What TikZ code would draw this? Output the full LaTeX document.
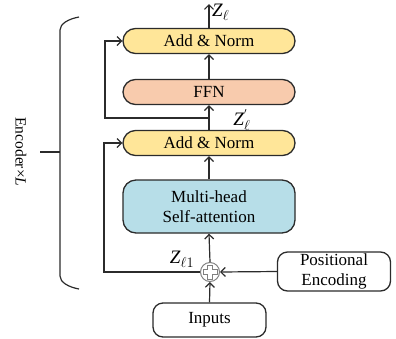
\documentclass[tikz,border=0pt]{standalone}
\usepackage{fontspec}
\setmainfont{Liberation Serif}
\usetikzlibrary{arrows.meta,calc}
\definecolor{anfill}{HTML}{FFE699}
\definecolor{ffnfill}{HTML}{F8CBAD}
\definecolor{mhafill}{HTML}{B7DEE8}
\definecolor{edge}{HTML}{2B2B2B}
\tikzset{
  box/.style={draw=edge, line width=1.3pt, minimum width=172pt, align=center, inner sep=0pt,
    font=\fontsize{17}{20}\selectfont},
  pill/.style={box, minimum height=25pt, rounded corners=12.5pt},
  wbox/.style={box, fill=white, minimum width=113pt, rounded corners=10pt},
  conn/.style={draw=edge, line width=1.2pt},
  arr/.style={conn, -{Straight Barb[length=4.5pt,width=9pt]}},
  lbl/.style={font=\fontsize{19}{22}\selectfont, inner sep=0pt}
}
\begin{document}
\begin{tikzpicture}[x=1pt,y=-1pt]
\useasboundingbox (0,0) rectangle (396,338);
% boxes
\node[pill, fill=anfill] (an1) at (209,41) {Add \& Norm};
\node[pill, fill=ffnfill] (ffn) at (209,92) {FFN};
\node[pill, fill=anfill] (an2) at (209,143) {Add \& Norm};
\node[box, fill=mhafill, minimum height=53pt, rounded corners=13pt] (mha) at (209,206.5) {Multi-head\\Self-attention};
\node[wbox, minimum height=39pt] (pe) at (334,271.5) {Positional\\Encoding};
\node[wbox, minimum height=34pt] (inp) at (209.5,320) {Inputs};
\node[circle, draw=gray, fill=white, line width=1pt, minimum size=19pt, inner sep=0pt] (plus) at (210,272) {};
\draw[gray, line width=0.9pt] (plus.center) ++(-2.5,-7) -- ++(5,0) -- ++(0,4.5) -- ++(4.5,0) -- ++(0,5) -- ++(-4.5,0) -- ++(0,4.5) -- ++(-5,0) -- ++(0,-4.5) -- ++(-4.5,0) -- ++(0,-5) -- ++(4.5,0) -- cycle;
% coordinates
\coordinate (top) at (209,4);
\coordinate (br1) at (209,118);
\coordinate (l1) at (105,118);
\coordinate (l2) at (104,272);
% connectors
\draw[arr] (inp.north) -- (plus.south);
\draw[arr] (pe.west) -- (plus.east);
\draw[arr] (plus.north) -- (mha.south);
\draw[arr] (mha.north) -- (an2.south);
\draw[arr] (an2.north) -- (ffn.south);
\draw[arr] (ffn.north) -- (an1.south);
\draw[arr] (an1.north) -- (top);
\draw[arr] (br1) -- (l1) |- (an1.west);
\draw[arr] (plus.west) -- (l2) |- (an2.west);
% labels
\node[lbl, anchor=west] (zl) at (212,12) {\textit{Z}$_\ell$};
\node[lbl] (zlp) at (242,120) {\textit{Z}$_\ell^{'}$};
\node[lbl] (zl1) at (182,259) {\textit{Z}$_{\ell 1}$};
% bracket
\draw[conn] (79,17) .. controls (68,19) and (60,24) .. (60,30) -- (60,276) .. controls (60,282) and (68,287) .. (79,289);
\coordinate (tk) at (40,152);
\coordinate (tk2) at (60,152);
\draw[conn] (tk) -- (tk2);
\node[rotate=-90, font=\fontsize{15.5}{18}\selectfont, inner sep=0pt] (enc) at (21,152) {Encoder×\textit{L}};
\end{tikzpicture}
\end{document}
